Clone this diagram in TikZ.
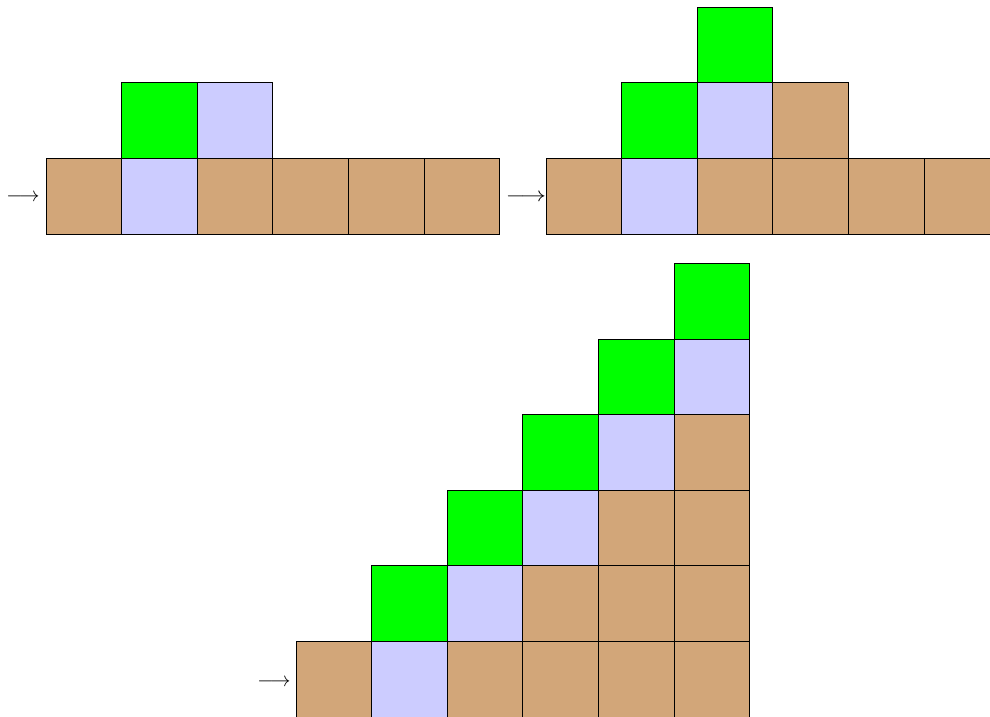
\documentclass[tikz,border=0pt]{standalone}
\usepackage{amsmath}
\definecolor{cB}{RGB}{210,166,121}
\definecolor{cL}{RGB}{204,204,255}
\definecolor{cG}{RGB}{0,255,0}
\tikzset{
  cellbox/.style={draw=black, line width=0.9pt, minimum size=75.6pt, inner sep=0pt, outer sep=0pt, anchor=south west},
  arrowtxt/.style={inner sep=0pt, outer sep=0pt, scale=2.05}
}
\begin{document}
\begin{tikzpicture}[x=1pt,y=-1pt]
\useasboundingbox (0,0) rectangle (990,717);
% ---------- top-left ----------
\foreach \c/\r/\col [count=\i] in {0/0/cB,1/0/cL,2/0/cB,3/0/cB,4/0/cB,5/0/cB,1/1/cG,2/1/cL}{
  \node[cellbox, fill=\col] (A\i) at ({46+\c*75.6},{234-\r*75.6}) {};
}
\node[arrowtxt] (arrA) at (23,198) {$\longrightarrow$};
% ---------- top-right ----------
\foreach \c/\r/\col [count=\i] in {0/0/cB,1/0/cL,2/0/cB,3/0/cB,4/0/cB,5/0/cB,1/1/cG,2/1/cL,3/1/cB,2/2/cG}{
  \node[cellbox, fill=\col] (B\i) at ({546+\c*75.6},{234-\r*75.6}) {};
}
\node[arrowtxt, xscale=1.22] (arrB) at (526,198) {$\longrightarrow$};
% ---------- bottom ----------
\foreach \c/\r/\col [count=\i] in {0/0/cB,1/0/cL,2/0/cB,3/0/cB,4/0/cB,5/0/cB,
  1/1/cG,2/1/cL,3/1/cB,4/1/cB,5/1/cB,
  2/2/cG,3/2/cL,4/2/cB,5/2/cB,
  3/3/cG,4/3/cL,5/3/cB,
  4/4/cG,5/4/cL,
  5/5/cG}{
  \node[cellbox, fill=\col] (C\i) at ({296+\c*75.6},{717-\r*75.6}) {};
}
\node[arrowtxt] (arrC) at (274,683) {$\longrightarrow$};
\end{tikzpicture}
\end{document}
